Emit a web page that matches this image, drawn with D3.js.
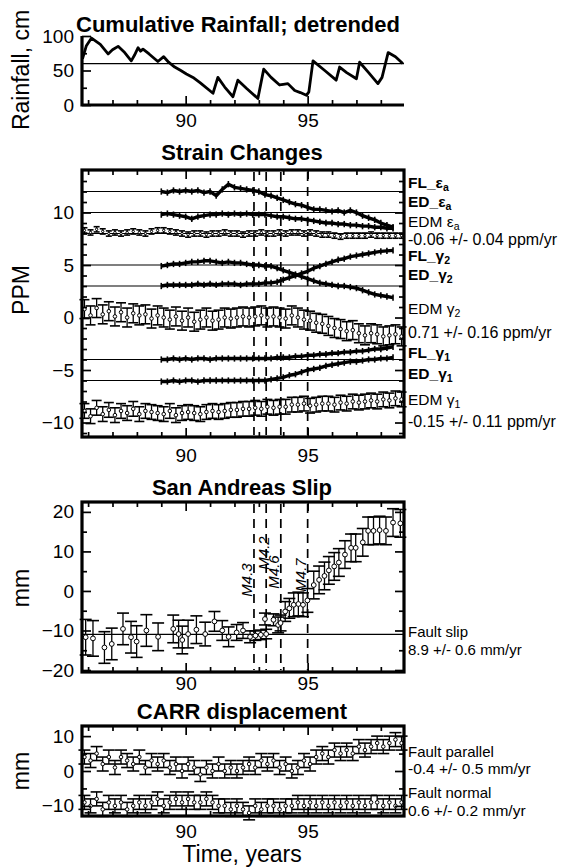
<!DOCTYPE html>
<html><head><meta charset="utf-8">
<script src="https://cdn.jsdelivr.net/npm/d3@7"></script>
<style>
body{margin:0;background:#fff;}
svg{display:block;font-family:"Liberation Sans",Arial,sans-serif;}
.tick text{font-family:"Liberation Sans",Arial,sans-serif;}
</style></head>
<body><div id="chart"></div>
<script>
// ---------------- DATA ----------------
const yearTicks = [86,87,88,89,90,91,92,93,94,95,96,97,98];
const yearLabels = [90,95];
const quakeYears = [92.8,93.3,93.9,95.0];
const quakeLabels = ["M4.3","M4.2","M4.6","M4.7"];

// Cumulative rainfall (detrended), cm
const rainYears = [85.77,85.93,86.14,86.5,86.82,87.0,87.23,87.5,87.77,87.9,88.05,88.15,88.25,88.5,88.86,89.1,89.3,89.55,89.8,90.03,90.3,90.6,91.12,91.32,91.6,91.94,92.14,92.5,92.96,93.2,93.5,93.85,94.0,94.19,94.47,94.7,94.95,95.05,95.22,95.7,96.17,96.31,96.6,97.0,97.13,97.5,97.88,98.05,98.3,98.6,98.9];
const rainVals  = [67,86,97,88,74,80,85,76,64,72,83,78,81,74,63,70,62,55,50,45,40,32,17,40,26,12,36,24,9.5,52,40,29,30,31,21,18,14,19,64,50,36,55,47,38,62,47,31,40,76,70,60];
const rainRef = 60;

// Strain changes (ppm)
const strainYears = [89.0,89.25,89.5,89.75,90.0,90.25,90.5,90.75,91.0,91.25,91.5,91.75,92.0,92.25,92.5,92.75,93.0,93.25,93.5,93.75,94.0,94.25,94.5,94.75,95.0,95.25,95.5,95.75,96.0,96.25,96.5,96.75,97.0,97.25,97.5,97.75,98.0,98.25,98.5];
const FL_ea = [12.0,11.9,12.1,12.0,12.1,12.0,12.1,11.9,12.0,11.6,12.2,12.7,12.4,12.3,12.2,12.1,12.0,11.7,11.6,11.4,11.2,11.0,10.8,10.7,10.5,10.3,10.3,10.2,10.1,10.2,10.0,10.2,10.0,9.7,9.5,9.3,9.0,8.8,8.6];
const ED_ea = [9.8,9.9,9.8,9.7,9.6,9.4,9.6,9.7,9.8,9.8,9.9,9.8,9.9,9.8,9.9,9.8,9.8,9.8,9.7,9.6,9.6,9.5,9.4,9.4,9.3,9.2,9.1,9.0,9.0,8.9,8.9,8.8,8.8,8.7,8.7,8.6,8.6,8.5,8.5];
const FL_g2 = [4.9,5.0,5.1,5.1,5.2,5.3,5.3,5.4,5.4,5.3,5.2,5.3,5.2,5.2,5.1,5.0,5.0,4.9,4.9,4.7,4.5,4.3,4.1,3.9,3.7,3.5,3.3,3.2,3.1,3.0,3.0,2.9,2.8,2.6,2.4,2.2,2.1,2.0,1.9];
const ED_g2 = [3.0,3.1,3.1,3.1,3.1,3.1,3.2,3.1,3.2,3.1,3.2,3.2,3.2,3.1,3.2,3.2,3.2,3.3,3.3,3.4,3.6,3.8,4.0,4.2,4.4,4.7,4.9,5.1,5.3,5.5,5.6,5.8,5.9,6.0,6.1,6.2,6.3,6.35,6.4];
const FL_g1 = [-4.0,-4.0,-3.9,-4.0,-3.9,-4.0,-3.9,-3.9,-4.0,-3.9,-3.9,-3.9,-3.9,-3.9,-3.9,-3.9,-3.9,-3.9,-3.9,-3.8,-3.8,-3.8,-3.7,-3.7,-3.6,-3.6,-3.5,-3.5,-3.4,-3.4,-3.3,-3.3,-3.2,-3.2,-3.1,-3.0,-3.0,-2.9,-2.8];
const ED_g1 = [-6.1,-6.1,-6.0,-6.1,-6.0,-6.0,-6.1,-6.0,-6.0,-6.0,-6.0,-6.0,-6.0,-6.0,-6.0,-6.0,-6.0,-6.0,-5.9,-5.8,-5.7,-5.5,-5.4,-5.2,-5.0,-4.9,-4.8,-4.6,-4.5,-4.4,-4.3,-4.2,-4.2,-4.1,-4.0,-4.0,-3.9,-3.9,-3.8];
const strainRefs = [12,10,8,5,3,-4,-6];

const edmYears = [85.85,86.1,86.35,86.6,86.85,87.1,87.35,87.6,87.85,88.1,88.35,88.6,88.85,89.1,89.35,89.6,89.85,90.1,90.35,90.6,90.85,91.1,91.35,91.6,91.85,92.1,92.35,92.6,92.85,93.1,93.35,93.6,93.85,94.1,94.35,94.6,94.85,95.1,95.35,95.6,95.85,96.1,96.35,96.6,96.85,97.1,97.35,97.6,97.85,98.1,98.35,98.6,98.85];
const EDM_ea = [8.3,8.1,8.4,8.2,8.0,8.1,8.0,8.1,8.2,8.1,8.0,8.2,8.3,8.3,8.2,8.1,8.0,7.9,8.0,8.0,7.9,8.0,8.0,8.1,8.0,8.0,7.9,8.0,8.0,8.1,8.0,8.0,8.1,8.0,8.1,8.1,8.0,8.1,8.0,7.9,7.9,7.8,7.7,7.8,7.8,7.8,7.8,7.9,7.8,7.8,7.8,7.8,7.8];
const EDM_g2 = [0.8,0.2,0.9,0.3,0.6,0.1,0.5,0.0,0.4,0.2,0.3,-0.1,0.2,0.0,-0.2,0.1,-0.3,0.0,-0.4,-0.2,0.0,-0.3,-0.2,0.0,-0.1,0.0,0.1,0.0,0.1,0.2,0.0,0.1,0.0,-0.1,0.2,0.0,-0.2,-0.3,-0.5,-0.6,-0.8,-1.0,-1.1,-1.3,-1.2,-1.5,-1.7,-1.5,-1.6,-1.8,-1.7,-1.6,-1.8];
const EDM_g1 = [-8.9,-9.4,-8.6,-9.2,-8.8,-9.3,-8.9,-9.1,-8.7,-9.2,-8.9,-9.0,-9.1,-9.2,-8.9,-9.3,-9.1,-9.0,-9.1,-9.2,-9.0,-8.9,-9.0,-8.9,-8.8,-8.8,-8.7,-8.7,-8.6,-8.7,-8.5,-8.6,-8.5,-8.5,-8.3,-8.3,-8.2,-8.4,-8.3,-8.2,-8.2,-8.3,-8.1,-8.2,-8.0,-8.1,-8.0,-7.9,-8.0,-7.8,-7.9,-7.7,-7.8];
const EDM_ea_err = 0.25, EDM_g2_err = 0.9, EDM_g1_err = 0.7, lineSpike = 0.3;

// San Andreas slip (mm)
const slipYears = [85.9,86.2,86.67,86.97,87.43,87.76,87.99,88.39,88.87,89.49,89.71,89.86,90.1,90.44,90.8,91.18,91.5,91.76,92.09,92.35,92.64,92.86,93.08,93.25,93.3,93.6,93.79,93.89,94.08,94.25,94.43,94.62,94.81,94.99,95.25,95.47,95.69,95.87,96.09,96.28,96.53,96.78,96.97,97.26,97.48,97.7,97.95,98.21,98.5,98.8];
const slipVals = [-11.7,-12,-14.3,-13.4,-9.6,-11.7,-12.8,-10,-11.6,-9.6,-10.9,-12.4,-10.9,-9.8,-10.9,-7.7,-10,-11.6,-10.5,-10,-11.6,-11.3,-11.1,-7.1,-10.9,-7.3,-8.6,-8.1,-5.2,-4.4,-3.5,-3.3,-3.5,-2.4,1.5,2.8,3.8,5.2,6.2,7.2,9.2,10.9,10.9,12.3,15.2,15.2,15.4,15.2,17.3,17.1];
const slipErr = [4.5,4.5,4,4,4,4,4,4,3.5,3.5,3.5,3.5,3.5,3.5,3,2.5,2.5,2.5,2,2,1.5,1.2,1.2,1.5,1.2,1.5,2,2,2.5,2.5,3,3,3,3,3.5,3.5,3.5,3.5,3.5,3.5,3.5,3.5,3.5,3.5,3.5,3.5,3.5,3.5,3.5,3.5];
const slipRef = -11;

// CARR displacement (mm)
const carrParallel = [4,3,5,2,4,1,4,3,2,4,1,3,2,3,1,2,0,2,1,-1,1,0,2,0,1,0,1,2,1,3,2,3,1,2,0,1,3,2,4,5,4,6,5,6,5,7,6,7,8,7,8,9,8];
const carrNormal = [-9,-10,-8,-11,-9,-10,-9,-11,-10,-9,-10,-9,-8,-10,-9,-8,-9,-8,-9,-9,-8,-9,-10,-10,-11,-10,-11,-12,-10,-11,-10,-10,-11,-10,-10,-9,-10,-9,-10,-9,-10,-9,-10,-9,-10,-9,-10,-9,-9,-10,-9,-10,-9];
const carrErr = 2;

// ---------------- DRAW ----------------
const W = 561, H = 868;
const svg = d3.select("#chart").append("svg").attr("width", W).attr("height", H);
const X0 = 82, X1 = 404;
const x = d3.scaleLinear().domain([85.75, 98.95]).range([X0, X1]);
const FONT = "'Liberation Sans', Arial, sans-serif";
const TICKFS = 19;

function axes(top, bottom, y, majors, minors, opts) {
  const g = svg.append("g");
  const full = opts.full !== false;
  g.append("g").attr("transform", `translate(0,${bottom})`)
    .call(d3.axisBottom(x).tickValues(yearTicks.filter(d => !yearLabels.includes(d))).tickSize(-5).tickFormat(""));
  g.append("g").attr("transform", `translate(0,${bottom})`)
    .call(d3.axisBottom(x).tickValues(yearLabels).tickSize(-9).tickPadding(opts.xpad || 9).tickFormat(d3.format("d")))
    .selectAll("text").attr("font-size", TICKFS);
  g.append("g").attr("transform", `translate(${X0},0)`)
    .call(d3.axisLeft(y).tickValues(minors).tickSize(-5).tickFormat(""));
  g.append("g").attr("transform", `translate(${X0},0)`)
    .call(d3.axisLeft(y).tickValues(majors).tickSize(-9).tickPadding(8).tickFormat(d3.format("d")))
    .selectAll("text").attr("font-size", TICKFS);
  if (full) {
    g.append("g").attr("transform", `translate(0,${top})`)
      .call(d3.axisTop(x).tickValues(yearTicks.filter(d => !yearLabels.includes(d))).tickSize(-5).tickFormat(""));
    g.append("g").attr("transform", `translate(0,${top})`)
      .call(d3.axisTop(x).tickValues(yearLabels).tickSize(-9).tickFormat(""));
    g.append("g").attr("transform", `translate(${X1},0)`)
      .call(d3.axisRight(y).tickValues(minors).tickSize(-5).tickFormat(""));
    g.append("g").attr("transform", `translate(${X1},0)`)
      .call(d3.axisRight(y).tickValues(majors).tickSize(-9).tickFormat(""));
  }
  g.selectAll(".domain").remove();
  g.selectAll(".tick line").attr("stroke", "#000").attr("stroke-width", 1.7);
  g.selectAll(".tick text").attr("fill", "#000");
  if (full) {
    g.append("rect").attr("x", X0).attr("y", top).attr("width", X1 - X0).attr("height", bottom - top)
      .attr("fill", "none").attr("stroke", "#000").attr("stroke-width", 3.2);
  } else {
    g.append("path").attr("d", `M${X0},${y.range()[1]}V${bottom}H${X1}`)
      .attr("fill", "none").attr("stroke", "#000").attr("stroke-width", 3.2);
  }
  return g;
}

function title(txt, cx, base) {
  svg.append("text").attr("x", cx).attr("y", base).attr("text-anchor", "middle")
    .attr("font-size", 22).attr("font-weight", "bold").attr("font-family", FONT).text(txt);
}
function ylab(txt, cy) {
  svg.append("text").attr("transform", `translate(29,${cy}) rotate(-90)`).attr("text-anchor", "middle")
    .attr("font-size", 23).attr("font-family", FONT).text(txt);
}
function refLine(y, v) {
  svg.append("line").attr("x1", X0).attr("x2", X1).attr("y1", y(v)).attr("y2", y(v))
    .attr("stroke", "#000").attr("stroke-width", 1.2);
}
function noisyLine(y, xs, vs, w) {
  const data = xs.map((d, i) => [d, vs[i]]);
  svg.append("path").datum(data)
    .attr("d", d3.line().x(d => x(d[0])).y(d => y(d[1])))
    .attr("fill", "none").attr("stroke", "#000").attr("stroke-width", w || 3.4).attr("stroke-linejoin", "round");
  if (!w) {
    svg.append("g").selectAll("line").data(data).join("line")
      .attr("x1", d => x(d[0])).attr("x2", d => x(d[0]))
      .attr("y1", d => y(d[1] - lineSpike)).attr("y2", d => y(d[1] + lineSpike))
      .attr("stroke", "#000").attr("stroke-width", 1.6);
  }
}
function errSeries(y, xs, vs, errs, cap, r) {
  const g = svg.append("g");
  const data = xs.map((d, i) => ({ t: d, v: vs[i], e: Array.isArray(errs) ? errs[i] : errs }));
  g.selectAll("line.v").data(data).join("line")
    .attr("x1", d => x(d.t)).attr("x2", d => x(d.t))
    .attr("y1", d => y(d.v - d.e)).attr("y2", d => y(d.v + d.e))
    .attr("stroke", "#000").attr("stroke-width", 1.3);
  g.selectAll("line.t").data(data).join("line")
    .attr("x1", d => x(d.t) - cap).attr("x2", d => x(d.t) + cap)
    .attr("y1", d => y(d.v + d.e)).attr("y2", d => y(d.v + d.e))
    .attr("stroke", "#000").attr("stroke-width", 1.6);
  g.selectAll("line.b").data(data).join("line")
    .attr("x1", d => x(d.t) - cap).attr("x2", d => x(d.t) + cap)
    .attr("y1", d => y(d.v - d.e)).attr("y2", d => y(d.v - d.e))
    .attr("stroke", "#000").attr("stroke-width", 1.6);
  g.selectAll("circle").data(data).join("circle")
    .attr("cx", d => x(d.t)).attr("cy", d => y(d.v)).attr("r", r || 2.2)
    .attr("fill", "#fff").attr("stroke", "#000").attr("stroke-width", 1);
}
function dashed(top, bottom) {
  svg.append("g").selectAll("line").data(quakeYears).join("line")
    .attr("x1", d => x(d)).attr("x2", d => x(d)).attr("y1", top + 2).attr("y2", bottom - 2)
    .attr("stroke", "#000").attr("stroke-width", 1.7).attr("stroke-dasharray", "9,6");
}
function rlabel(yy, parts, size) {
  const t = svg.append("text").attr("x", 408).attr("y", yy).attr("font-family", FONT).attr("font-size", size);
  parts.forEach(p => {
    const s = t.append("tspan").text(p.t);
    if (p.b) s.attr("font-weight", "bold");
    if (p.sub) s.attr("font-size", size * 0.68).attr("dy", 3);
  });
}

// ---- Panel 1: Rainfall ----
const yR = d3.scaleLinear().domain([0, 100]).range([105, 36]);
title("Cumulative Rainfall; detrended", 238, 32);
ylab("Rainfall, cm", 70);
refLine(yR, rainRef);
noisyLine(yR, rainYears, rainVals, 2.8);
axes(36, 105, yR, [0, 50, 100], [25, 75], { full: false, xpad: 9 });

// ---- Panel 2: Strain ----
const yS = d3.scaleLinear().domain([-11.38, 14.05]).range([437, 170]);
title("Strain Changes", 242, 160);
ylab("PPM", 290);
strainRefs.forEach(v => refLine(yS, v));
dashed(170, 437);
errSeries(yS, edmYears, EDM_ea, EDM_ea_err, 3, 1.2);
errSeries(yS, edmYears, EDM_g2, EDM_g2_err, 5, 1.8);
errSeries(yS, edmYears, EDM_g1, EDM_g1_err, 5, 1.8);
noisyLine(yS, strainYears, FL_ea);
noisyLine(yS, strainYears, ED_ea);
noisyLine(yS, strainYears, FL_g2);
noisyLine(yS, strainYears, ED_g2);
noisyLine(yS, strainYears, FL_g1);
noisyLine(yS, strainYears, ED_g1);
axes(170, 437, yS, [-10, -5, 0, 5, 10], d3.range(-11, 14).filter(d => d % 5 !== 0), { xpad: 12 });
rlabel(188, [{t:"FL_ε", b:1}, {t:"a", b:1, sub:1}], 15.5);
rlabel(207, [{t:"ED_ε", b:1}, {t:"a", b:1, sub:1}], 15.5);
rlabel(227, [{t:"EDM ε"}, {t:"a", sub:1}], 15.5);
rlabel(245, [{t:"-0.06 +/- 0.04 ppm/yr"}], 16);
rlabel(261, [{t:"FL_γ", b:1}, {t:"2", b:1, sub:1}], 15.5);
rlabel(280, [{t:"ED_γ", b:1}, {t:"2", b:1, sub:1}], 15.5);
rlabel(314, [{t:"EDM γ"}, {t:"2", sub:1}], 15.5);
rlabel(338, [{t:"0.71 +/- 0.16 ppm/yr"}], 16);
rlabel(358, [{t:"FL_γ", b:1}, {t:"1", b:1, sub:1}], 15.5);
rlabel(379, [{t:"ED_γ", b:1}, {t:"1", b:1, sub:1}], 15.5);
rlabel(405, [{t:"EDM γ"}, {t:"1", sub:1}], 15.5);
rlabel(427, [{t:"-0.15 +/- 0.11 ppm/yr"}], 16);

// ---- Panel 3: San Andreas slip ----
const yA = d3.scaleLinear().domain([-20.5, 22.5]).range([672, 502]);
title("San Andreas Slip", 242, 495);
ylab("mm", 588);
refLine(yA, slipRef);
dashed(502, 672);
errSeries(yA, slipYears, slipVals, slipErr, 6, 2.4);
axes(502, 672, yA, [-20, -10, 0, 10, 20], [-15, -5, 5, 15], { xpad: 5 });
svg.append("g").selectAll("text").data(quakeYears).join("text")
  .attr("transform", (d, i) => `translate(${x(d) - 2 + (i === 1 ? 5 : 0)},${[580, 553, 572, 575][i]}) rotate(-90)`)
  .attr("text-anchor", "middle").attr("font-size", 15).attr("font-style", "italic").attr("font-family", FONT)
  .text((d, i) => quakeLabels[i]);
rlabel(637, [{t:"Fault slip"}], 15);
rlabel(655, [{t:"8.9 +/- 0.6 mm/yr"}], 15);

// ---- Panel 4: CARR ----
const yC = d3.scaleLinear().domain([-12.9, 12.9]).range([816, 726]);
title("CARR displacement", 242, 719);
ylab("mm", 771);
errSeries(yC, edmYears, carrParallel, carrErr, 6, 1.8);
errSeries(yC, edmYears, carrNormal, carrErr, 6, 1.8);
axes(726, 816, yC, [-10, 0, 10], [-5, 5], { xpad: 9 });
rlabel(757, [{t:"Fault parallel"}], 15);
rlabel(774, [{t:"-0.4 +/- 0.5 mm/yr"}], 15.5);
rlabel(798, [{t:"Fault normal"}], 15);
rlabel(816, [{t:"0.6 +/- 0.2 mm/yr"}], 15.5);
svg.append("text").attr("x", 242).attr("y", 862).attr("text-anchor", "middle")
  .attr("font-size", 23).attr("font-family", FONT).text("Time, years");
</script></body></html>
